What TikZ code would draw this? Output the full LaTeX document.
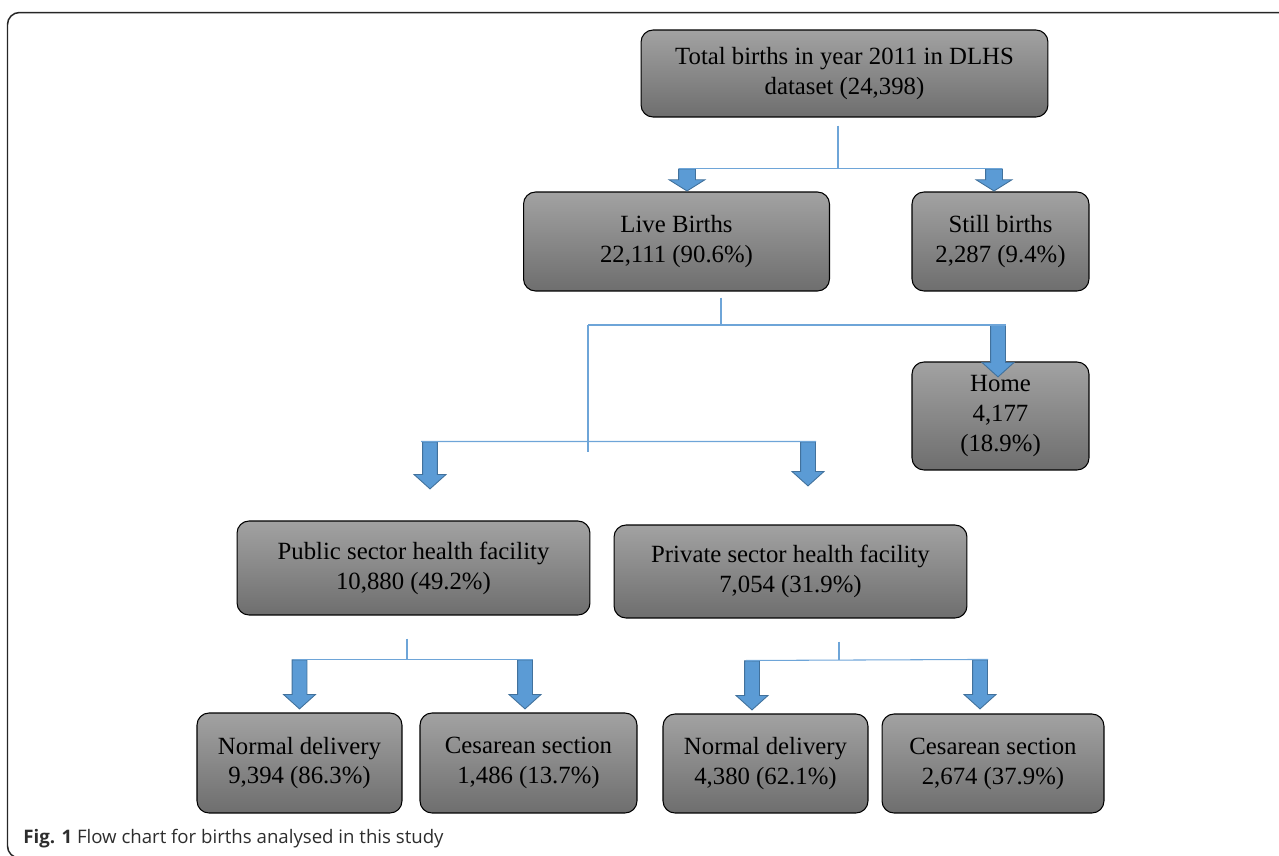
\documentclass[tikz,border=0pt]{standalone}
\usepackage{fontspec}
\setmainfont{Liberation Serif}
\newfontfamily\capfont{Open Sans}
\usetikzlibrary{shapes.arrows}

\definecolor{boxtop}{RGB}{162,162,162}
\definecolor{boxbot}{RGB}{110,110,110}
\definecolor{linkblue}{RGB}{110,165,216}
\definecolor{arrowblue}{RGB}{91,155,213}
\definecolor{arrowedge}{RGB}{65,113,156}
\definecolor{captext}{RGB}{45,45,45}

\tikzset{
  box/.style={draw=black, line width=0.6pt, rounded corners=0.24cm,
              top color=boxtop, bottom color=boxbot, align=center,
              inner sep=0pt, font=\fontsize{14.1}{17}\selectfont},
  link/.style={draw=linkblue, line width=0.6pt},
  barrow/.style={single arrow, draw=arrowedge, fill=arrowblue, line width=0.5pt,
                 rotate=-90, anchor=tip, inner xsep=0pt, inner ysep=0.14cm,
                 single arrow head extend=0.17cm, single arrow tip angle=96},
  toparrow/.style={barrow, inner ysep=0.16cm, single arrow head extend=0.19cm,
                   single arrow tip angle=116},
  frame/.style={draw=black!85, line width=0.85pt, rounded corners=0.24cm},
  caption/.style={font=\capfont\fontsize{10.6}{12}\selectfont, text=captext,
                  inner sep=0pt}
}

\begin{document}
\begin{tikzpicture}[x=0.02cm, y=-0.02cm]
\useasboundingbox (0,0) rectangle (1279,856);
\draw[frame] (7.5,12.5) rectangle (1300,858);

\node[box, minimum width=8.14cm, minimum height=1.74cm] (total) at (844.5,73.5)
  {Total births in year 2011 in DLHS\\dataset (24,398)};
\node[box, minimum width=6.12cm, minimum height=1.98cm] (live) at (676.5,241.5)
  {Live Births\\22,111 (90.6\%)};
\node[box, minimum width=3.54cm, minimum height=1.98cm] (still) at (1000.5,241.5)
  {Still births\\2,287 (9.4\%)};
\node[box, minimum width=3.54cm, minimum height=2.16cm] (home) at (1000.5,416)
  {Home\\4,177\\(18.9\%)};
\node[box, minimum width=7.06cm, minimum height=1.88cm] (public) at (413.5,568)
  {Public sector health facility\\10,880 (49.2\%)};
\node[box, minimum width=7.06cm, minimum height=1.86cm] (private) at (790.5,571.5)
  {Private sector health facility\\7,054 (31.9\%)};
\node[box, minimum width=4.10cm, minimum height=2.00cm] (normalpub) at (299.5,763)
  {Normal delivery\\9,394 (86.3\%)};
\node[box, minimum width=4.34cm, minimum height=2.00cm] (cesarpub) at (528.5,763)
  {Cesarean section\\1,486 (13.7\%)};
\node[box, minimum width=4.10cm, minimum height=1.98cm] (normalpriv) at (765.5,763.5)
  {Normal delivery\\4,380 (62.1\%)};
\node[box, minimum width=4.44cm, minimum height=1.98cm] (cesarpriv) at (993,763.5)
  {Cesarean section\\2,674 (37.9\%)};

\node[toparrow, minimum height=0.44cm] (aLive) at ([xshift=0.21cm]live.north) {};
\node[toparrow, minimum height=0.44cm] (aStill) at ([xshift=-0.13cm]still.north) {};
\node[barrow, minimum height=1.04cm] (aHome) at ([xshift=-0.05cm,yshift=-0.32cm]home.north) {};
\node[barrow, minimum height=0.94cm] (aPublic) at ([xshift=0.33cm,yshift=0.62cm]public.north) {};
\node[barrow, minimum height=0.88cm] (aPrivate) at ([xshift=0.35cm,yshift=0.76cm]private.north) {};
\node[barrow, minimum height=0.98cm] (aNormalPub) at ([yshift=0.06cm]normalpub.north) {};
\node[barrow, minimum height=0.98cm] (aCesarPub) at ([xshift=-0.07cm,yshift=0.06cm]cesarpub.north) {};
\node[barrow, minimum height=0.98cm] (aNormalPriv) at ([xshift=-0.27cm,yshift=0.06cm]normalpriv.north) {};
\node[barrow, minimum height=0.98cm] (aCesarPriv) at ([xshift=-0.26cm,yshift=0.08cm]cesarpriv.north) {};

\draw[link] ([xshift=-0.13cm,yshift=-0.16cm]total.south) -- ([xshift=-0.13cm]total.south |- aLive.tail);
\draw[link, shorten <=-0.16cm, shorten >=-0.16cm] (aLive.tail) -- (aStill.tail);

\coordinate (jLive) at (588,325);
\draw[link] ([xshift=0.89cm,yshift=-0.12cm]live.south) -- ([xshift=0.89cm]live.south |- jLive);
\draw[link] (jLive) -- ([xshift=0.16cm]aHome.tail |- jLive);
\draw[link] (jLive) -- ++(0,127);
\draw[link, shorten <=-0.18cm, shorten >=-0.16cm] (aPublic.tail) -- (aPrivate.tail);

\draw[link] ([xshift=-0.13cm,yshift=-0.46cm]public.south) -- ([xshift=-0.13cm]public.south |- aNormalPub.tail);
\draw[link, shorten <=-0.12cm, shorten >=-0.16cm] (aNormalPub.tail) -- (aCesarPub.tail);
\draw[link] ([xshift=0.97cm,yshift=-0.46cm]private.south) -- ([xshift=0.97cm]private.south |- aNormalPriv.tail);
\draw[link, shorten <=-0.12cm, shorten >=-0.16cm] (aNormalPriv.tail) -- (aCesarPriv.tail);

\node[caption, anchor=base west] (cap) at (23,843)
  {{\bfseries Fig. 1} Flow chart for births analysed in this study};
\end{tikzpicture}
\end{document}
